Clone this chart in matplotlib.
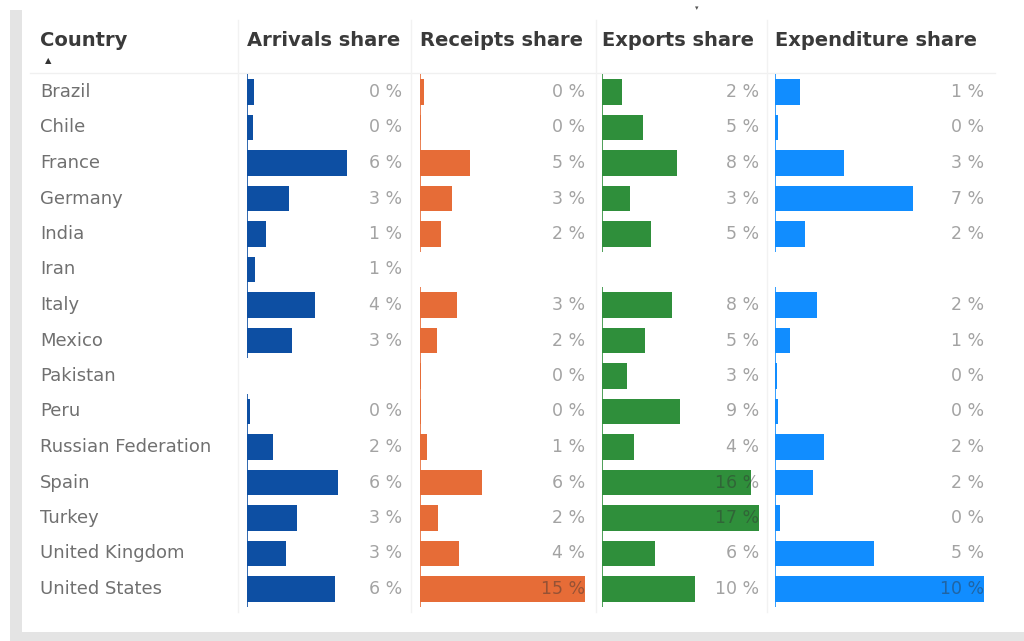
import numpy as np
import matplotlib
matplotlib.use("Agg")
import matplotlib.pyplot as plt
from matplotlib.patches import Rectangle

W, H = 1024, 641

countries = ["Brazil", "Chile", "France", "Germany", "India", "Iran", "Italy",
             "Mexico", "Pakistan", "Peru", "Russian Federation", "Spain",
             "Turkey", "United Kingdom", "United States"]
nan = np.nan
arrivals = [0.45, 0.4, 6.45, 2.71, 1.23, 0.52, 4.39, 2.9, nan, 0.2, 1.68, 5.87, 3.23, 2.52, 5.68]
receipts = [0.36, 0.05, 4.55, 2.9, 1.9, nan, 3.36, 1.55, 0.05, 0.1, 0.64, 5.64, 1.64, 3.55, 15.0]
exports = [2.2, 4.55, 8.2, 3.1, 5.4, nan, 7.7, 4.7, 2.7, 8.6, 3.55, 16.4, 17.25, 5.8, 10.2]
expenditure = [1.25, 0.15, 3.45, 6.9, 1.52, nan, 2.1, 0.75, 0.1, 0.15, 2.45, 1.9, 0.25, 4.95, 10.45]

headers = ["Arrivals share", "Receipts share", "Exports share", "Expenditure share"]
series = [arrivals, receipts, exports, expenditure]
colors = ["#0d4fa3", "#e66c37", "#2f8f3b", "#118dff"]
bar_max = [10.0, 15.0, 17.25, 10.45]

# column geometry in pixels
col_left = [247, 420, 602, 775]
col_right = [402, 585, 759, 984]
rows_top, row_h = 74.25, 35.5

FONT = ["DejaVu Sans"]

fig = plt.figure(figsize=(W / 100, H / 100), dpi=100)

# background layer in pixel coordinates
bg = fig.add_axes([0, 0, 1, 1])
bg.set_xlim(0, W)
bg.set_ylim(H, 0)
bg.axis("off")
bg.add_patch(Rectangle((10, 10), W - 10, H - 10, color="#e4e4e4", lw=0))
bg.add_patch(Rectangle((22, 0), W - 22, 632, color="white", lw=0))
bg.plot([30, 995], [73, 73], color="#f0f0f0", lw=1)
for x in [238, 411, 596, 767]:
    bg.plot([x, x], [20, 612], color="#f2f2f2", lw=1)

bg.text(40, 41, "Country", fontsize=14, fontweight="bold", color="#3a3a3a",
        family=FONT, va="center", ha="left")
bg.text(48, 61, "\u25b2", fontsize=6, color="#333333", family="DejaVu Sans",
        va="center", ha="center")
bg.text(697, 8, "\u25be", fontsize=5, color="#555555", family="DejaVu Sans",
        va="center", ha="center")
for hdr, x in zip(headers, col_left):
    bg.text(x, 41, hdr, fontsize=14, fontweight="bold", color="#3a3a3a",
            family=FONT, va="center", ha="left")

n = len(countries)
rows_bottom = rows_top + n * row_h


def add_cell_axes(x0, x1):
    ax = fig.add_axes([x0 / W, 1 - rows_bottom / H, (x1 - x0) / W, (rows_bottom - rows_top) / H])
    ax.set_ylim(n - 0.5, -0.5)
    ax.axis("off")
    return ax


# country names
ax_c = add_cell_axes(40, 236)
ax_c.set_xlim(0, 1)
for i, name in enumerate(countries):
    ax_c.text(0, i, name, fontsize=13, color="#707070", family=FONT,
              va="center", ha="left")

# data bar columns
for vals, col, vmax, x0, x1 in zip(series, colors, bar_max, col_left, col_right):
    ax = add_cell_axes(x0, x1)
    ax.set_xlim(0, vmax)
    v = np.array(vals, dtype=float)
    idx = np.where(~np.isnan(v))[0]
    ax.barh(idx, v[idx], height=0.73, color=col, lw=0, zorder=2)
    ax.vlines(np.zeros(len(idx)), idx - 0.5, idx + 0.5, color=col, lw=1.2, zorder=2)
    for i in idx:
        ax.text(vmax, i, "{:.0f} %".format(v[i]), fontsize=12.5, color="#333333",
                alpha=0.45, family=FONT, va="center", ha="right", zorder=3)

fig.savefig("out.png", dpi=100)
